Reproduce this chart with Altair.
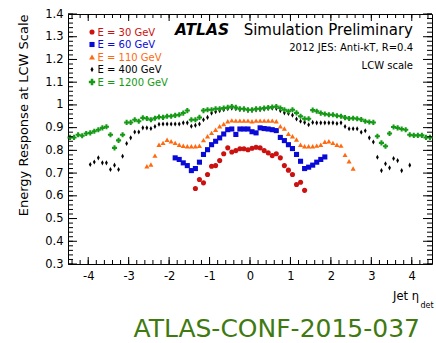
import altair as alt
import pandas as pd

W, H = 364, 250
FONT = "DejaVu Sans"

labels = ["E = 30 GeV", "E = 60 GeV", "E = 110 GeV", "E = 400 GeV", "E = 1200 GeV"]
colors = ["#cc1111", "#0a0ad8", "#ff6a10", "#000000", "#159a15"]
shapes = ["circle", "square", "triangle-up", "M0,-1L0.55,0L0,1L-0.55,0Z", "cross"]
sizes = [26, 26, 34, 30, 40]


def bin_centers(first, n):
    # centres of the 0.1-wide eta bins
    return [round(first + 0.1 * i, 2) for i in range(n)]


eta_30 = bin_centers(-1.35, 28)
resp_30 = [0.632, 0.672, 0.657, 0.694, 0.730, 0.733, 0.755, 0.785, 0.811, 0.793,
           0.799, 0.807, 0.807, 0.803, 0.809, 0.814, 0.811, 0.799, 0.789, 0.777,
           0.785, 0.767, 0.733, 0.713, 0.694, 0.650, 0.660, 0.624]

eta_60 = bin_centers(-1.85, 38)
resp_60 = [0.767, 0.760, 0.745, 0.733, 0.711, 0.720, 0.748, 0.782, 0.803, 0.825,
           0.840, 0.855, 0.872, 0.891, 0.894, 0.870, 0.894, 0.894, 0.894,
           0.882, 0.877, 0.899, 0.896, 0.894, 0.891, 0.887, 0.857, 0.843, 0.825,
           0.808, 0.782, 0.752, 0.720, 0.726, 0.735, 0.748, 0.760, 0.771]

eta_110 = bin_centers(-2.55, 52)
resp_110 = [0.730, 0.738, 0.777, 0.825, 0.833, 0.847, 0.840, 0.833, 0.825, 0.820,
            0.818, 0.818, 0.818, 0.820, 0.845, 0.862, 0.877, 0.891, 0.906, 0.916,
            0.928, 0.932, 0.931, 0.931, 0.931, 0.931,
            0.928, 0.931, 0.931, 0.931, 0.931, 0.931, 0.928, 0.906, 0.896, 0.873,
            0.862, 0.848, 0.825, 0.818, 0.818, 0.818, 0.821, 0.825, 0.838, 0.840,
            0.833, 0.825, 0.821, 0.780, 0.752, 0.720]

eta_400 = bin_centers(-3.95, 80)
resp_400 = [0.738, 0.749, 0.767, 0.745, 0.745, 0.716, 0.735, 0.716, 0.774, 0.830,
            0.855, 0.881, 0.881, 0.899, 0.899, 0.896, 0.905, 0.915, 0.916, 0.916,
            0.916, 0.916, 0.916, 0.921, 0.921, 0.906, 0.910, 0.916, 0.935, 0.945,
            0.964, 0.970, 0.975, 0.979, 0.983, 0.986, 0.983, 0.979, 0.979, 0.975,
            0.975, 0.978, 0.979, 0.981, 0.984, 0.986, 0.984, 0.975, 0.965, 0.962,
            0.955, 0.938, 0.928, 0.923, 0.913, 0.923, 0.921, 0.921, 0.921, 0.921,
            0.921, 0.918, 0.921, 0.905, 0.895, 0.895, 0.895, 0.880, 0.886, 0.855,
            0.837, 0.770, 0.711, 0.741, 0.723, 0.764, 0.755, 0.711, None, 0.735]

eta_1200 = bin_centers(-4.45, 90)
resp_1200 = [0.857, 0.857, 0.869, 0.864, 0.874, 0.877, 0.884, 0.891, 0.899, 0.904,
             0.869, 0.811, 0.844, 0.869, 0.923, 0.923, 0.935, 0.928, 0.943, 0.940,
             0.935, 0.941, 0.947, 0.945, 0.950, 0.950, 0.954, 0.957, 0.964, 0.975,
             0.935, 0.935, 0.945, 0.975, 0.979, 0.979, 0.983, 0.983, 0.986, 0.989,
             0.993, 0.989, 0.983, 0.983, 0.979,
             0.979, 0.983, 0.983, 0.986, 0.988, 0.991, 0.993, 0.986, 0.979, 0.972,
             0.979, 0.965, 0.950, 0.939, 0.939, 0.977, 0.972, 0.964, 0.960, 0.957,
             0.957, 0.952, 0.950, 0.944, 0.940, 0.941, 0.939, 0.936, 0.928, 0.925,
             0.923, 0.862, 0.833, 0.818, 0.874, 0.903, 0.899, 0.894, 0.891, 0.869,
             0.866, 0.866, 0.866, 0.857, 0.857]

x_major = [-4, -3, -2, -1, 0, 1, 2, 3, 4]
x_minor = [round(-4.4 + 0.2 * i, 1) for i in range(45)]
y_major = [round(0.3 + 0.1 * i, 1) for i in range(12)]
y_minor = [round(0.3 + 0.02 * i, 2) for i in range(56)]

rows = []
for lab, etas, resps in zip(labels, [eta_30, eta_60, eta_110, eta_400, eta_1200],
                            [resp_30, resp_60, resp_110, resp_400, resp_1200]):
    for e, r in zip(etas, resps):
        if r is not None:
            rows.append({"series": lab, "eta": e, "resp": r})
df = pd.DataFrame(rows)

xscale = alt.Scale(domain=[-4.5, 4.5], nice=False, zero=False)
yscale = alt.Scale(domain=[0.3, 1.4], nice=False, zero=False)

x_axis = alt.Axis(values=x_major, labelExpr="'' + datum.value", ticks=False,
                  domain=False, grid=False, labelFont=FONT, labelFontSize=11.5,
                  labelColor="black", labelPadding=6, title="")
y_axis = alt.Axis(values=y_major, format=".1~f", ticks=False, domain=False,
                  grid=False, labelFont=FONT, labelFontSize=11.5,
                  labelColor="black", labelPadding=5,
                  title="Energy Response at LCW Scale", titleFont=FONT,
                  titleFontSize=13, titleFontWeight="normal", titleColor="black",
                  titleAngle=270, titleX=-41, titleY=0, titleAlign="right",
                  titleBaseline="alphabetic")

points = alt.Chart(df).mark_point(filled=True, opacity=1, strokeWidth=0).encode(
    x=alt.X("eta:Q", scale=xscale, axis=x_axis),
    y=alt.Y("resp:Q", scale=yscale, axis=y_axis),
    color=alt.Color("series:N", scale=alt.Scale(domain=labels, range=colors), legend=None),
    shape=alt.Shape("series:N", scale=alt.Scale(domain=labels, range=shapes), legend=None),
    size=alt.Size("series:N", scale=alt.Scale(domain=labels, range=sizes), legend=None),
)


def yticks(vals, length, side):
    d = pd.DataFrame({"resp": vals})
    x1, x2 = (0, length) if side == "left" else (W - length, W)
    return alt.Chart(d).mark_rule(color="black", strokeWidth=1).encode(
        y=alt.Y("resp:Q", scale=yscale, axis=y_axis), x=alt.value(x1), x2=alt.value(x2))


def xticks(vals, length, side):
    d = pd.DataFrame({"eta": vals})
    y1, y2 = (H - length, H) if side == "bottom" else (0, length)
    return alt.Chart(d).mark_rule(color="black", strokeWidth=1).encode(
        x=alt.X("eta:Q", scale=xscale, axis=x_axis), y=alt.value(y1), y2=alt.value(y2))


ticks = [
    yticks(y_minor, 5, "left"), yticks(y_major, 9, "left"),
    yticks(y_minor, 5, "right"), yticks(y_major, 9, "right"),
    xticks(x_minor, 4, "bottom"), xticks(x_major, 7, "bottom"),
    xticks(x_minor, 4, "top"), xticks(x_major, 7, "top"),
]


def txt(s, x, y, size, color="black", align="left", weight="normal", style="normal",
        font=FONT):
    return alt.Chart(pd.DataFrame({"t": [s]})).mark_text(
        align=align, baseline="alphabetic", fontSize=size, font=font,
        fontWeight=weight, fontStyle=style, color=color).encode(
        x=alt.value(x), y=alt.value(y), text="t:N")


texts = [
    txt("ATLAS", 107, 21, 15.5, weight="bold", style="italic"),
    txt("Simulation Preliminary", 345, 21, 15, align="right"),
    txt("2012 JES: Anti-kT, R=0.4", 345, 37, 10, align="right"),
    txt("LCW scale", 345, 55, 10, align="right"),
    txt("Jet η", 351, 286, 11.5, align="right"),
    txt("det", 352.5, 294, 8),
    txt("ATLAS-CONF-2015-037", 352, 323, 25, color="#3f7a10", align="right"),
]

leg_y = [21.5, 34, 46.5, 59, 71.5]
legend = []
for i, lab in enumerate(labels):
    legend.append(alt.Chart(pd.DataFrame({"s": [lab]})).mark_point(
        filled=True, opacity=1, strokeWidth=0, shape=shapes[i], size=sizes[i],
        color=colors[i]).encode(x=alt.value(24), y=alt.value(leg_y[i] - 3.5)))
    legend.append(txt(lab, 29.5, leg_y[i], 10, color=colors[i]))

chart = alt.layer(points, *ticks, *texts, *legend).properties(
    width=W, height=H,
    padding={"left": 68, "top": 14, "right": 4, "bottom": 79},
    autosize=alt.AutoSizeParams(type="none"),
).configure_view(stroke="black", strokeWidth=1)

chart.save("out.html", embed_options={"renderer": "svg", "actions": False})
